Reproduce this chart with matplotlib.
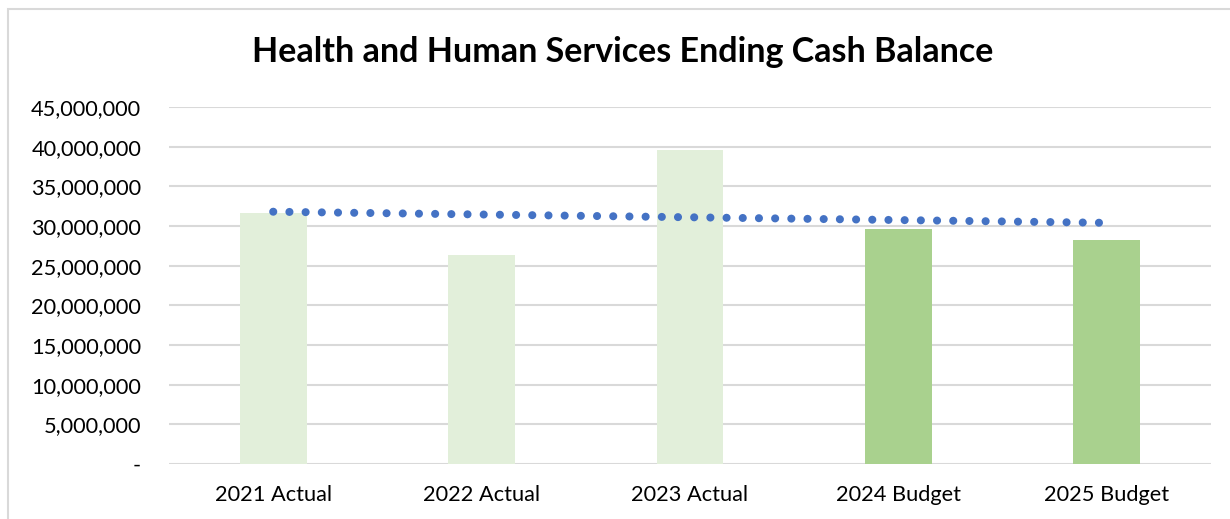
import numpy as np
import matplotlib
matplotlib.use("Agg")
import matplotlib.pyplot as plt
from matplotlib.ticker import FuncFormatter, MultipleLocator

# Ending cash balance by year
categories = ['2021 Actual', '2022 Actual', '2023 Actual', '2024 Budget', '2025 Budget']
balances = [31650000, 26350000, 39600000, 29650000, 28250000]
bar_colors = ['#E2EFDA', '#E2EFDA', '#E2EFDA', '#A9D18E', '#A9D18E']

plt.rcParams['font.family'] = ['Lato', 'DejaVu Sans']

fig = plt.figure(figsize=(12.3, 5.19), dpi=100)
ax = fig.add_axes([169 / 1230, 1 - 464 / 519, (1211 - 169) / 1230, (464 - 107) / 519])

x = np.arange(len(categories))
ax.bar(x, balances, width=0.32, color=bar_colors, zorder=2)

# linear trendline through the yearly balances
slope, intercept = np.polyfit(x, balances, 1)
trend = slope * x + intercept
ax.plot(x, trend, color='#4472C4', linestyle=(0, (0.01, 2.0)), linewidth=5.8,
        dash_capstyle='round', solid_capstyle='round', zorder=3)

ax.set_xlim(-0.5, len(categories) - 0.5)
ax.set_ylim(0, 45000000)
ax.yaxis.set_major_locator(MultipleLocator(5000000))
ax.yaxis.set_major_formatter(FuncFormatter(lambda v, p: '-' if v == 0 else f'{v:,.0f}'))
ax.grid(axis='y', color='#D9D9D9', linewidth=1.5, zorder=0)
for s in ax.spines.values():
    s.set_visible(False)
ax.tick_params(axis='both', length=0, labelsize=15.7, colors='black')
ax.tick_params(axis='y', pad=20)
ax.tick_params(axis='x', pad=15)
ax.set_xticks(x)
ax.set_xticklabels(categories)

fig.text(623 / 1230, 1 - 52 / 519, 'Health and Human Services Ending Cash Balance',
         ha='center', va='center', fontsize=24.5, fontweight='bold')

# chart area border
fig.patches.append(plt.Rectangle((8 / 1230, -0.1), 1.2, 1 - 9 / 519 + 0.1,
                                 transform=fig.transFigure, fill=False,
                                 edgecolor='#D9D9D9', linewidth=1.5))

fig.savefig('out.png', dpi=100)
